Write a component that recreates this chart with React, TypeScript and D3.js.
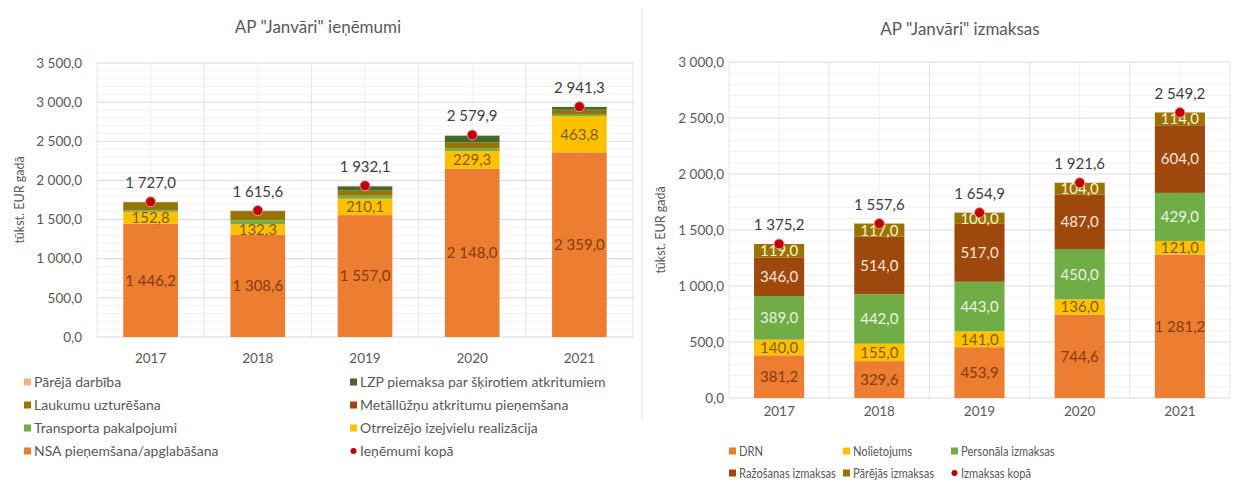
import React from "react";
import * as d3 from "d3";

// ---------- DATA ----------
const years = ["2017", "2018", "2019", "2020", "2021"];

// AP "Janvāri" ieņēmumi (tūkst. EUR gadā)
const incNSA = [1446.2, 1308.6, 1557.0, 2148.0, 2359.0];
const incOtrreizejo = [152.8, 132.3, 210.1, 229.3, 463.8];
const incTransporta = [20, 50, 38, 35, 25];
const incMetallluzni = [0, 0, 0, 0, 0];
const incLaukumu = [100, 115, 65, 75, 55];
const incLZP = [5, 5, 55, 85, 35];
const incPareja = [3, 4.7, 7, 7.6, 3.5];
const incTotal = [1727.0, 1615.6, 1932.1, 2579.9, 2941.3];

// AP "Janvāri" izmaksas (tūkst. EUR gadā)
const expDRN = [381.2, 329.6, 453.9, 744.6, 1281.2];
const expNolietojums = [140.0, 155.0, 141.0, 136.0, 121.0];
const expPersonala = [389.0, 442.0, 443.0, 450.0, 429.0];
const expRazosanas = [346.0, 514.0, 517.0, 487.0, 604.0];
const expParejas = [119.0, 117.0, 100.0, 104.0, 114.0];
const expTotal = [1375.2, 1557.6, 1654.9, 1921.6, 2549.2];

const leftTicks = [0, 500, 1000, 1500, 2000, 2500, 3000, 3500];
const rightTicks = [0, 500, 1000, 1500, 2000, 2500, 3000];

// ---------- STYLE ----------
const FONT = "Lato, 'Open Sans', sans-serif";
const C_ORANGE = "#ED7D31";
const C_YELLOW = "#FFC000";
const C_GREEN = "#70AD47";
const C_BROWN = "#9E480E";
const C_OLIVE = "#997300";
const C_DKGREEN = "#43682B";
const C_LIGHTOR = "#F4B183";
const C_DOT = "#C00000";

const lvLocale = d3.formatLocale({ decimal: ",", thousands: "\u00a0", grouping: [3], currency: ["", ""] });
const fmt = lvLocale.format(",.1f");

type Series = { key: string; name: string; values: number[]; color: string; labelColor: string | null };

const incSeries: Series[] = [
  { key: "nsa", name: "NSA pieņemšana/apglabāšana", values: incNSA, color: C_ORANGE, labelColor: "#843C0C" },
  { key: "otr", name: "Otrreizējo izejvielu realizācija", values: incOtrreizejo, color: C_YELLOW, labelColor: "#7F6000" },
  { key: "tr", name: "Transporta pakalpojumi", values: incTransporta, color: C_GREEN, labelColor: null },
  { key: "met", name: "Metāllūžņu atkritumu pieņemšana", values: incMetallluzni, color: C_BROWN, labelColor: null },
  { key: "lauk", name: "Laukumu uzturēšana", values: incLaukumu, color: C_OLIVE, labelColor: null },
  { key: "lzp", name: "LZP piemaksa par šķirotiem atkritumiem", values: incLZP, color: C_DKGREEN, labelColor: null },
  { key: "par", name: "Pārējā darbība", values: incPareja, color: C_LIGHTOR, labelColor: null },
];

const expSeries: Series[] = [
  { key: "drn", name: "DRN", values: expDRN, color: C_ORANGE, labelColor: "#843C0C" },
  { key: "nol", name: "Nolietojums", values: expNolietojums, color: C_YELLOW, labelColor: "#7F6000" },
  { key: "pers", name: "Personāla izmaksas", values: expPersonala, color: C_GREEN, labelColor: "#EAF4E2" },
  { key: "raz", name: "Ražošanas izmaksas", values: expRazosanas, color: C_BROWN, labelColor: "#FBE5D6" },
  { key: "par", name: "Pārējās izmaksas", values: expParejas, color: C_OLIVE, labelColor: "#FFF2CC" },
];

type ChartProps = {
  series: Series[];
  totals: number[];
  ticks: number[];
  minorStep: number;
  x0: number;
  x1: number;
  yTop: number;
  yBottom: number;
  barFrac: number;
  title: string;
  titleX: number;
  titleY: number;
  axisTitleX: number;
  tickRightX: number;
  yearY: number;
};

function StackChart(p: ChartProps) {
  const maxV = p.ticks[p.ticks.length - 1];
  const y = d3.scaleLinear().domain([0, maxV]).range([p.yBottom, p.yTop]);
  const x = d3
    .scaleBand<string>()
    .domain(years)
    .range([p.x0, p.x1])
    .paddingInner(1 - p.barFrac)
    .paddingOuter((1 - p.barFrac) / 2);
  const step = x.step();
  const bw = x.bandwidth();

  const table = years.map((yr, i) => {
    const row: Record<string, any> = { year: yr };
    p.series.forEach((s) => (row[s.key] = s.values[i]));
    return row;
  });
  const stack = d3.stack<any>().keys(p.series.map((s) => s.key))(table);

  const minors = d3.range(0, maxV + 0.001, p.minorStep).filter((v) => !p.ticks.includes(v));
  const vlines = d3.range(0, years.length * 2 + 1).map((i) => p.x0 + (i * step) / 2);

  return (
    <g>
      <text x={p.titleX} y={p.titleY} textAnchor="middle" fontSize={17} fill="#595959" fontFamily={FONT}>
        {p.title}
      </text>
      {minors.map((v) => (
        <line key={"mn" + v} x1={p.x0} x2={p.x1} y1={y(v)} y2={y(v)} stroke="#F2F2F2" strokeWidth={1} />
      ))}
      {vlines.map((vx, i) => (
        <line key={"vl" + i} x1={vx} x2={vx} y1={p.yTop} y2={p.yBottom} stroke={i % 2 === 0 ? "#E4E4E4" : "#F0F0F0"} strokeWidth={1} />
      ))}
      {p.ticks.map((v) => (
        <line key={"mj" + v} x1={p.x0} x2={p.x1} y1={y(v)} y2={y(v)} stroke="#D9D9D9" strokeWidth={1} />
      ))}
      {p.ticks.map((v) => (
        <text key={"tk" + v} x={p.tickRightX} y={y(v)} dy="0.35em" textAnchor="end" fontSize={13.5} fill="#595959" fontFamily={FONT}>
          {fmt(v)}
        </text>
      ))}
      <text
        transform={`translate(${p.axisTitleX},${(p.yTop + p.yBottom) / 2}) rotate(-90)`}
        dy="0.35em"
        textAnchor="middle"
        fontSize={12.5}
        fill="#595959"
        fontFamily={FONT}
      >
        tūkst. EUR gadā
      </text>
      {stack.map((layer, si) =>
        layer.map((d, i) => {
          const h = y(d[0]) - y(d[1]);
          if (h <= 0) return null;
          return (
            <rect key={"b" + si + "-" + i} x={x(years[i])} y={y(d[1])} width={bw} height={h} fill={p.series[si].color} />
          );
        })
      )}
      {stack.map((layer, si) =>
        p.series[si].labelColor
          ? layer.map((d, i) => (
              <text
                key={"l" + si + "-" + i}
                x={(x(years[i]) as number) + bw / 2}
                y={y((d[0] + d[1]) / 2)}
                dy="0.36em"
                textAnchor="middle"
                fontSize={15}
                fill={p.series[si].labelColor as string}
                fontFamily={FONT}
              >
                {fmt(p.series[si].values[i])}
              </text>
            ))
          : null
      )}
      {p.totals.map((t, i) => (
        <g key={"t" + i}>
          <circle cx={(x(years[i]) as number) + bw / 2} cy={y(t)} r={5} fill={C_DOT} stroke="#E59A9A" strokeWidth={1} />
          <text
            x={(x(years[i]) as number) + bw / 2}
            y={y(t) - 19}
            dy="0.36em"
            textAnchor="middle"
            fontSize={15}
            fill="#404040"
            fontFamily={FONT}
          >
            {fmt(t)}
          </text>
        </g>
      ))}
      {years.map((yr) => (
        <text key={"yr" + yr} x={(x(yr) as number) + bw / 2} y={p.yearY} dy="0.36em" textAnchor="middle" fontSize={13.5} fill="#595959" fontFamily={FONT}>
          {yr}
        </text>
      ))}
    </g>
  );
}

type LegendItem = { name: string; color: string; dot?: boolean };

function Legend({
  items,
  cols,
  rowY,
  fontSize,
  squeeze,
}: {
  items: LegendItem[];
  cols: number[];
  rowY: number[];
  fontSize: number;
  squeeze: number;
}) {
  return (
    <g>
      {items.map((it, i) => {
        const cx = cols[i % cols.length];
        const cy = rowY[Math.floor(i / cols.length)];
        return (
          <g key={"lg" + i}>
            {it.dot ? (
              <circle cx={cx + 3.5} cy={cy} r={3} fill={C_DOT} />
            ) : (
              <rect x={cx} y={cy - 3.5} width={7} height={7} fill={it.color} />
            )}
            <g transform={`translate(${cx + 10},${cy}) scale(${squeeze},1)`}>
              <text x={0} y={0} dy="0.35em" fontSize={fontSize} fill="#595959" fontFamily={FONT}>
                {it.name}
              </text>
            </g>
          </g>
        );
      })}
    </g>
  );
}

const byKey = (arr: Series[], k: string) => arr.find((s) => s.key === k) as Series;

export default function App() {
  const leftLegend: LegendItem[] = [
    { name: byKey(incSeries, "par").name, color: C_LIGHTOR },
    { name: byKey(incSeries, "lzp").name, color: C_DKGREEN },
    { name: byKey(incSeries, "lauk").name, color: C_OLIVE },
    { name: byKey(incSeries, "met").name, color: C_BROWN },
    { name: byKey(incSeries, "tr").name, color: C_GREEN },
    { name: byKey(incSeries, "otr").name, color: C_YELLOW },
    { name: byKey(incSeries, "nsa").name, color: C_ORANGE },
    { name: "Ieņēmumi kopā", color: C_DOT, dot: true },
  ];
  const rightLegend: LegendItem[] = [
    { name: byKey(expSeries, "drn").name, color: C_ORANGE },
    { name: byKey(expSeries, "nol").name, color: C_YELLOW },
    { name: byKey(expSeries, "pers").name, color: C_GREEN },
    { name: byKey(expSeries, "raz").name, color: C_BROWN },
    { name: byKey(expSeries, "par").name, color: C_OLIVE },
    { name: "Izmaksas kopā", color: C_DOT, dot: true },
  ];

  return (
    <svg width={1241} height={490} style={{ position: "absolute", left: 0, top: 0, background: "#fff" }}>
      <rect x={0} y={0} width={1241} height={490} fill="#fff" />
      <line x1={642} x2={642} y1={8} y2={420} stroke="#E2E2E2" strokeWidth={1} />
      <StackChart
        series={incSeries}
        totals={incTotal}
        ticks={leftTicks}
        minorStep={100}
        x0={97}
        x1={633}
        yTop={63}
        yBottom={337}
        barFrac={0.51}
        title={'AP "Janvāri" ieņēmumi'}
        titleX={318}
        titleY={33}
        axisTitleX={20}
        tickRightX={82}
        yearY={358}
      />
      <StackChart
        series={expSeries}
        totals={expTotal}
        ticks={rightTicks}
        minorStep={100}
        x0={729}
        x1={1230}
        yTop={62}
        yBottom={398}
        barFrac={0.5}
        title={'AP "Janvāri" izmaksas'}
        titleX={960}
        titleY={35}
        axisTitleX={661}
        tickRightX={724}
        yearY={411}
      />
      <Legend items={leftLegend} cols={[24, 350]} rowY={[382, 405, 428, 451]} fontSize={14} squeeze={1} />
      <Legend items={rightLegend} cols={[729, 843, 951]} rowY={[451, 473]} fontSize={13} squeeze={0.86} />
    </svg>
  );
}
